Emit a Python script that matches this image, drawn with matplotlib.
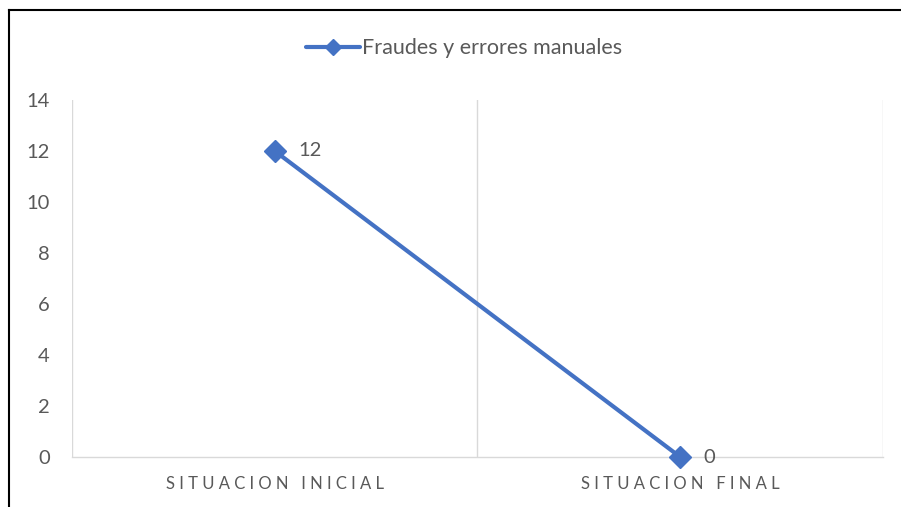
import matplotlib.pyplot as plt
from matplotlib.lines import Line2D

plt.rcParams['font.family'] = ['Lato', 'DejaVu Sans']

# Data
categories = ["SITUACION INICIAL", "SITUACION FINAL"]
valores = [12, 0]
serie = "Fraudes y errores manuales"
yticks = [0, 2, 4, 6, 8, 10, 12, 14]

blue = '#4472C4'
gray_txt = '#595959'
grid_c = '#D9D9D9'

fig = plt.figure(figsize=(9.01, 5.07), dpi=100)
ax = fig.add_axes([0.0799, 0.0986, 0.9001, 0.7042])

x = list(range(len(categories)))
ax.plot(x, valores, color=blue, lw=3, marker='D', ms=11, label=serie,
        solid_capstyle='round', zorder=3, clip_on=False)

for xi, v in zip(x, valores):
    ax.annotate(str(v), (xi, v), xytext=(17, 0), textcoords='offset points',
                ha='left', va='center', fontsize=14.5, color=gray_txt)

ax.set_xlim(-0.5, len(categories) - 0.5)
ax.set_ylim(0, 14)
ax.set_yticks(yticks)
ax.set_yticklabels([str(t) for t in yticks])

# vertical gridlines at category boundaries
ax.set_xticks([i - 0.5 for i in range(len(categories) + 1)], minor=True)
ax.grid(True, which='minor', axis='x', color=grid_c, lw=1)
ax.set_xticks(x)
ax.set_xticklabels([" ".join(c) for c in categories])

for s in ['top', 'right', 'left']:
    ax.spines[s].set_visible(False)
ax.spines['bottom'].set_color(grid_c)
ax.spines['bottom'].set_linewidth(1)

ax.tick_params(axis='y', length=0, pad=16, labelsize=14.5, labelcolor=gray_txt)
ax.tick_params(axis='x', which='both', length=0, pad=14, labelsize=12, labelcolor=gray_txt)

fig.legend(loc='center', bbox_to_anchor=(0.515, 0.905), frameon=False,
           fontsize=15.5, labelcolor=gray_txt, handlelength=2.5, handletextpad=0.1,
           markerscale=0.75)

# outer frame (left and top edges visible)
fig.add_artist(Line2D([8.5 / 901, 8.5 / 901], [0, 1 - 9.5 / 507], color='black', lw=1.5,
                      transform=fig.transFigure))
fig.add_artist(Line2D([8.5 / 901, 1], [1 - 9.5 / 507, 1 - 9.5 / 507], color='black', lw=1.5,
                      transform=fig.transFigure))

fig.savefig('out.png', dpi=100)
